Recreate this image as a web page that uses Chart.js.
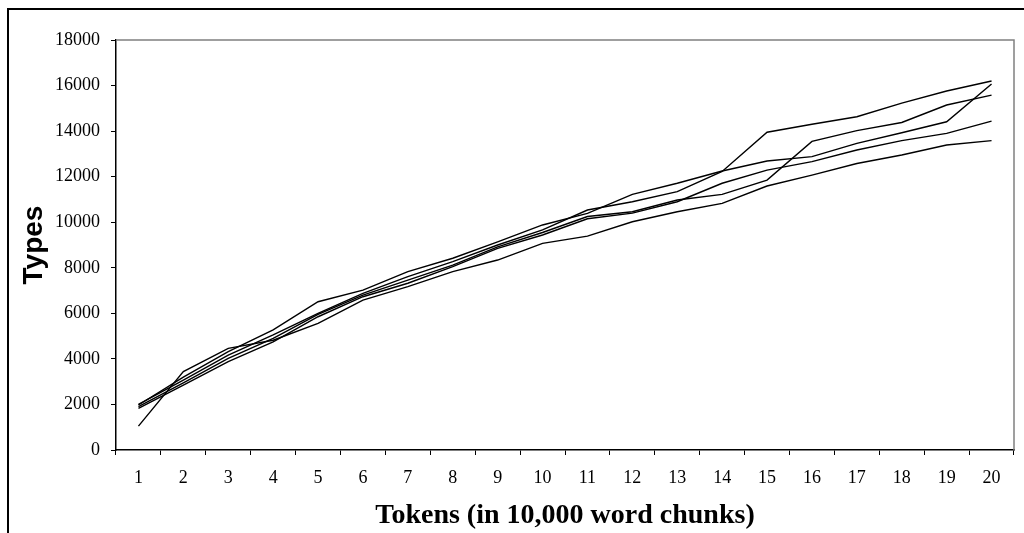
<!DOCTYPE html>
<html>
<head>
<meta charset="utf-8">
<script src="https://cdn.jsdelivr.net/npm/chart.js@4/dist/chart.umd.min.js"></script>
<style>
  html, body { margin: 0; padding: 0; background: #fff; overflow: hidden; }
  #wrap { width: 1024px; height: 533px; position: relative; }
</style>
</head>
<body>
<div id="wrap"><canvas id="typesChart" width="1024" height="533"></canvas></div>
<script>
// token chunks (x axis categories)
var chunks = ['1','2','3','4','5','6','7','8','9','10','11','12','13','14','15','16','17','18','19','20'];

// type counts, one array per text
var textA = [2000, 3070, 4170, 5050, 6000, 6880, 7610, 8270, 9000, 9660, 10535, 10900, 11340, 12230, 13950, 14300, 14630, 15230, 15760, 16200];
var textB = [1975, 3200, 4320, 5270, 6510, 7020, 7830, 8420, 9140, 9880, 10390, 11220, 11710, 12250, 12690, 12880, 13460, 13930, 14410, 16070];
var textC = [1900, 2950, 4020, 4900, 5950, 6800, 7460, 8120, 8920, 9550, 10250, 10460, 10975, 11220, 11850, 13550, 14020, 14380, 15145, 15580];
var textD = [1830, 2850, 3880, 4750, 5850, 6730, 7320, 8050, 8850, 9440, 10150, 10400, 10900, 11710, 12290, 12660, 13170, 13580, 13900, 14440];
var textE = [1050, 3440, 4460, 4820, 5560, 6580, 7170, 7830, 8340, 9070, 9390, 10020, 10460, 10830, 11590, 12070, 12580, 12950, 13390, 13580];

var yMin = 0, yMax = 18000, yStep = 2000;

// cadre + bords gris de la zone de tracé
var framePlugin = {
    id: 'frame',
    afterDraw: function (chart) {
        var ctx = chart.ctx;
        var a = chart.chartArea;
        ctx.save();
        ctx.fillStyle = '#000';
        ctx.fillRect(7, 8, 1017, 2);
        ctx.fillRect(7, 8, 2, 525);
        ctx.strokeStyle = '#808080';
        ctx.lineWidth = 1.5;
        ctx.beginPath();
        ctx.moveTo(a.left, a.top);
        ctx.lineTo(a.right, a.top);
        ctx.lineTo(a.right, a.bottom);
        ctx.stroke();
        ctx.restore();
    }
};

function line(data) {
    return {
        data: data,
        borderColor: '#000',
        borderWidth: 1.4,
        pointRadius: 0,
        tension: 0,
        fill: false
    };
}

var ctx = document.getElementById('typesChart').getContext('2d');
var typesChart = new Chart(ctx, {
    type: 'line',
    data: {
        labels: chunks,
        datasets: [line(textA), line(textB), line(textC), line(textD), line(textE)]
    },
    options: {
        responsive: false,
        animation: false,
        layout: { padding: { left: 0, top: 40, right: 10, bottom: 0 } },
        plugins: { legend: { display: false }, tooltip: { enabled: false } },
        scales: {
            x: {
                offset: true,
                afterFit: function (s) { s.height = 83; },
                grid: { offset: true, drawOnChartArea: false, tickLength: 5, color: '#000', tickColor: '#000' },
                border: { color: '#000', width: 1.5 },
                ticks: { color: '#000', padding: 12, maxRotation: 0, autoSkip: false,
                         font: { family: '"Liberation Serif", "Times New Roman", serif', size: 18 } },
                title: { display: true, text: 'Tokens (in 10,000 word chunks)', color: '#000', padding: 0,
                         font: { family: '"Liberation Serif", "Times New Roman", serif', size: 28, weight: 'bold' } }
            },
            y: {
                min: yMin,
                max: yMax,
                afterFit: function (s) { s.width = 116; },
                grid: { drawOnChartArea: false, tickLength: 5, color: '#000', tickColor: '#000' },
                border: { color: '#000', width: 1.5 },
                ticks: { stepSize: yStep, color: '#000', padding: 11,
                         callback: function (v) { return String(v); },
                         font: { family: '"Liberation Serif", "Times New Roman", serif', size: 18 } },
                title: { display: true, text: 'Types', color: '#000', padding: { top: 17, bottom: 0 },
                         font: { family: '"Liberation Sans", Arial, sans-serif', size: 28, weight: 'bold' } }
            }
        }
    },
    plugins: [framePlugin]
});
</script>
</body>
</html>
